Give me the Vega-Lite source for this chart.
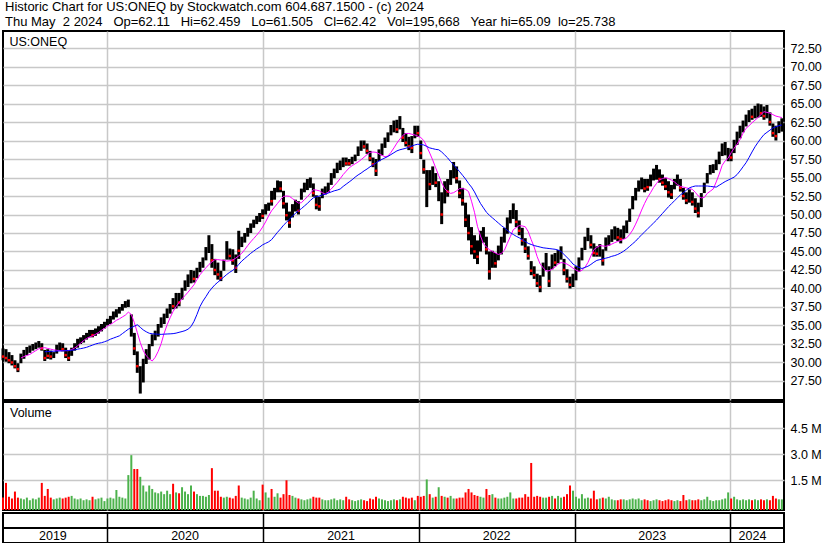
{
"$schema":"https://vega.github.io/schema/vega-lite/v6.json",
"padding":{"left":0,"top":1,"right":0,"bottom":0},
"background":"white",
"spacing":0,
"title":{"text":["Historic Chart for US:ONEQ by Stockwatch.com 604.687.1500 - (c) 2024","Thu May\u00a0\u00a02 2024\u00a0\u00a0\u00a0Op=62.11\u00a0\u00a0\u00a0Hi=62.459\u00a0\u00a0\u00a0Lo=61.505\u00a0\u00a0\u00a0Cl=62.42\u00a0\u00a0\u00a0Vol=195,668\u00a0\u00a0\u00a0Year hi=65.09\u00a0\u00a0lo=25.738"],"anchor":"start","frame":"group","offset":1,"dx":2,"fontSize":13,"fontWeight":"normal","font":"Liberation Sans","color":"black","lineHeight":15},
"config":{"view":{"stroke":"black","strokeWidth":2},"font":"Liberation Sans","axis":{"labelFont":"Liberation Sans","labelFontSize":12.5,"labelColor":"black","gridColor":"#c8c8c8","gridWidth":1.5,"ticks":false,"domain":false,"labelOverlap":false,"minExtent":0}},
"datasets":{
"yr":[{"md":"2019-08-26","y":"2019"},{"md":"2020-07-01","y":"2020"},{"md":"2021-07-02","y":"2021"},{"md":"2022-07-02","y":"2022"},{"md":"2023-07-02","y":"2023"},{"md":"2024-02-22","y":"2024"}],
"w":[
{"d":"2019-05-01","h":31.9,"l":30.3,"c":30.8,"s":"dn","v":0.5},
{"d":"2019-05-08","h":31.8,"l":30.1,"c":30.6,"s":"dn","v":1.35},
{"d":"2019-05-15","h":31.4,"l":29.9,"c":30.3,"s":"dn","v":0.55},
{"d":"2019-05-22","h":31.0,"l":29.6,"c":30.0,"s":"dn","v":0.45},
{"d":"2019-05-29","h":30.3,"l":29.2,"c":29.5,"s":"dn","v":0.85},
{"d":"2019-06-05","h":29.9,"l":28.7,"c":29.1,"s":"dn","v":0.5},
{"d":"2019-06-12","h":31.2,"l":29.9,"c":30.8,"s":"up","v":0.45,"m":30.6},
{"d":"2019-06-19","h":31.7,"l":30.5,"c":31.3,"s":"up","v":0.4,"m":30.8},
{"d":"2019-06-26","h":32.1,"l":31.0,"c":31.8,"s":"up","v":0.5,"m":30.95},
{"d":"2019-07-03","h":32.3,"l":31.3,"c":32.0,"s":"up","v":0.35,"m":31.1},
{"d":"2019-07-10","h":32.5,"l":31.6,"c":32.2,"s":"up","v":0.45,"m":31.35},
{"d":"2019-07-17","h":32.7,"l":31.8,"c":32.4,"s":"up","v":0.4,"m":31.6},
{"d":"2019-07-24","h":32.9,"l":32.0,"c":32.6,"s":"up","v":0.5,"m":31.85},
{"d":"2019-07-31","h":32.6,"l":31.6,"c":31.9,"s":"dn","v":1.35,"m":31.95},
{"d":"2019-08-07","h":31.7,"l":30.2,"c":30.6,"s":"dn","v":0.6,"m":32.0,"b":31.45},
{"d":"2019-08-14","h":31.8,"l":30.5,"c":30.9,"s":"dn","v":1.0,"m":31.9,"b":31.47},
{"d":"2019-08-21","h":31.6,"l":30.4,"c":30.8,"s":"dn","v":0.5,"m":31.8,"b":31.5},
{"d":"2019-08-28","h":31.4,"l":30.6,"c":31.2,"s":"up","v":0.4,"m":31.7,"b":31.52},
{"d":"2019-09-04","h":32.4,"l":31.2,"c":32.0,"s":"up","v":0.45,"m":31.65,"b":31.54},
{"d":"2019-09-11","h":32.7,"l":31.6,"c":32.4,"s":"up","v":0.5,"m":31.6,"b":31.56},
{"d":"2019-09-18","h":32.6,"l":31.5,"c":31.8,"s":"dn","v":0.45,"m":31.6,"b":31.58},
{"d":"2019-09-25","h":32.0,"l":30.6,"c":31.0,"s":"dn","v":0.5,"m":31.6,"b":31.6},
{"d":"2019-10-02","h":31.6,"l":30.2,"c":30.6,"s":"dn","v":0.55,"m":31.6,"b":31.62},
{"d":"2019-10-09","h":32.0,"l":30.9,"c":31.7,"s":"up","v":0.6,"m":31.75,"b":31.65},
{"d":"2019-10-16","h":32.6,"l":31.6,"c":32.3,"s":"up","v":0.45,"m":31.95,"b":31.7},
{"d":"2019-10-23","h":33.2,"l":32.0,"c":32.9,"s":"up","v":0.4,"m":32.25,"b":31.8},
{"d":"2019-10-30","h":33.4,"l":32.5,"c":33.1,"s":"up","v":0.45,"m":32.6,"b":31.87},
{"d":"2019-11-06","h":33.7,"l":32.7,"c":33.4,"s":"up","v":0.35,"m":32.95,"b":31.95},
{"d":"2019-11-13","h":34.0,"l":33.1,"c":33.7,"s":"up","v":0.4,"m":33.25,"b":32.05},
{"d":"2019-11-20","h":34.4,"l":33.4,"c":34.1,"s":"up","v":0.35,"m":33.45,"b":32.2},
{"d":"2019-11-27","h":34.4,"l":33.4,"c":33.7,"s":"dn","v":0.55,"m":33.6,"b":32.35},
{"d":"2019-12-04","h":34.6,"l":33.6,"c":34.3,"s":"up","v":0.4,"m":33.8,"b":32.5},
{"d":"2019-12-11","h":34.9,"l":33.9,"c":34.6,"s":"up","v":0.45,"m":34.05,"b":32.6},
{"d":"2019-12-18","h":35.2,"l":34.2,"c":34.9,"s":"up","v":0.5,"m":34.35,"b":32.67},
{"d":"2019-12-25","h":35.5,"l":34.6,"c":35.2,"s":"up","v":0.3,"m":34.6,"b":32.8},
{"d":"2020-01-01","h":35.9,"l":35.0,"c":35.6,"s":"up","v":0.45,"m":34.9,"b":32.95},
{"d":"2020-01-08","h":36.3,"l":35.2,"c":36.0,"s":"up","v":0.5,"m":35.15,"b":33.15},
{"d":"2020-01-15","h":36.9,"l":35.8,"c":36.6,"s":"up","v":0.45,"m":35.4,"b":33.3},
{"d":"2020-01-22","h":37.2,"l":36.1,"c":36.9,"s":"up","v":0.94,"m":35.7,"b":33.45},
{"d":"2020-01-29","h":37.5,"l":36.6,"c":37.2,"s":"up","v":0.55,"m":35.9,"b":33.6},
{"d":"2020-02-05","h":37.9,"l":37.0,"c":37.6,"s":"up","v":0.5,"m":36.15,"b":33.9},
{"d":"2020-02-12","h":38.3,"l":37.4,"c":38.0,"s":"up","v":0.45,"m":36.4,"b":34.2},
{"d":"2020-02-19","h":38.5,"l":37.5,"c":38.2,"s":"up","v":1.8,"m":36.8,"b":34.5},
{"d":"2020-02-26","h":36.5,"l":33.5,"c":34.4,"s":"up","v":2.95,"m":36.5,"b":34.7},
{"d":"2020-03-04","h":34.0,"l":31.0,"c":31.9,"s":"dn","v":2.15,"m":35.4,"b":34.9},
{"d":"2020-03-11","h":31.5,"l":28.6,"c":29.5,"s":"dn","v":2.15,"m":34.05,"b":35.1},
{"d":"2020-03-18","h":29.5,"l":25.8,"c":27.0,"s":"up","v":1.7,"m":32.7,"b":34.75},
{"d":"2020-03-25","h":30.5,"l":27.3,"c":29.5,"s":"up","v":1.2,"m":31.6,"b":34.4},
{"d":"2020-04-01","h":31.8,"l":29.8,"c":31.2,"s":"up","v":0.85,"m":30.9,"b":34.15},
{"d":"2020-04-08","h":32.5,"l":30.4,"c":31.9,"s":"up","v":1.2,"m":30.5,"b":33.95},
{"d":"2020-04-15","h":33.8,"l":32.2,"c":33.3,"s":"up","v":1.0,"m":30.2,"b":33.88},
{"d":"2020-04-22","h":34.3,"l":33.0,"c":33.9,"s":"up","v":0.8,"m":30.7,"b":33.85},
{"d":"2020-04-29","h":35.2,"l":33.5,"c":34.7,"s":"up","v":0.75,"m":31.5,"b":33.82},
{"d":"2020-05-06","h":36.1,"l":34.7,"c":35.7,"s":"up","v":0.85,"m":32.55,"b":33.8},
{"d":"2020-05-13","h":36.6,"l":35.2,"c":36.2,"s":"up","v":0.7,"m":33.95,"b":33.83},
{"d":"2020-05-20","h":37.3,"l":36.0,"c":36.9,"s":"up","v":0.9,"m":35.1,"b":33.85},
{"d":"2020-05-27","h":37.9,"l":36.6,"c":37.5,"s":"up","v":0.7,"m":36.05,"b":33.87},
{"d":"2020-06-03","h":38.7,"l":37.2,"c":37.6,"s":"dn","v":1.3,"m":36.9,"b":33.9},
{"d":"2020-06-10","h":39.4,"l":37.3,"c":38.8,"s":"up","v":0.8,"m":37.55,"b":33.97},
{"d":"2020-06-17","h":39.4,"l":37.6,"c":38.1,"s":"dn","v":0.75,"m":38.1,"b":34.08},
{"d":"2020-06-24","h":40.1,"l":38.5,"c":39.6,"s":"up","v":1.1,"m":38.6,"b":34.18},
{"d":"2020-07-01","h":41.1,"l":39.7,"c":40.7,"s":"up","v":0.85,"m":39.05,"b":34.3},
{"d":"2020-07-08","h":41.9,"l":40.2,"c":41.4,"s":"up","v":0.7,"m":39.5,"b":34.5},
{"d":"2020-07-15","h":42.5,"l":40.7,"c":42.0,"s":"up","v":1.2,"m":40.0,"b":34.85},
{"d":"2020-07-22","h":42.4,"l":40.8,"c":41.3,"s":"dn","v":0.85,"m":40.5,"b":35.55},
{"d":"2020-07-29","h":42.8,"l":41.4,"c":42.4,"s":"up","v":0.7,"m":41.2,"b":36.5},
{"d":"2020-08-05","h":43.6,"l":42.2,"c":43.2,"s":"up","v":0.6,"m":41.85,"b":37.55},
{"d":"2020-08-12","h":44.2,"l":42.8,"c":43.8,"s":"up","v":0.6,"m":42.35,"b":38.3},
{"d":"2020-08-19","h":45.6,"l":43.8,"c":45.1,"s":"up","v":0.55,"m":42.8,"b":38.9},
{"d":"2020-08-26","h":47.2,"l":44.8,"c":46.5,"s":"up","v":0.65,"m":43.25,"b":39.55},
{"d":"2020-09-02","h":46.0,"l":42.8,"c":43.8,"s":"dn","v":2.2,"m":43.6,"b":40.05},
{"d":"2020-09-09","h":44.0,"l":41.8,"c":42.5,"s":"dn","v":0.9,"m":43.9,"b":40.5},
{"d":"2020-09-16","h":43.5,"l":41.2,"c":41.9,"s":"dn","v":0.9,"m":43.9,"b":40.85},
{"d":"2020-09-23","h":42.4,"l":41.0,"c":41.4,"s":"dn","v":0.55,"m":43.85,"b":41.2},
{"d":"2020-09-30","h":43.9,"l":42.4,"c":43.5,"s":"up","v":0.5,"m":43.8,"b":41.55},
{"d":"2020-10-07","h":46.4,"l":43.9,"c":45.7,"s":"up","v":0.55,"m":43.7,"b":41.9},
{"d":"2020-10-14","h":45.4,"l":43.9,"c":44.4,"s":"dn","v":0.5,"m":43.75,"b":42.2},
{"d":"2020-10-21","h":45.3,"l":43.2,"c":43.8,"s":"dn","v":0.45,"m":43.85,"b":42.45},
{"d":"2020-10-28","h":44.6,"l":42.1,"c":42.8,"s":"dn","v":0.6,"m":44.1,"b":42.8},
{"d":"2020-11-04","h":47.8,"l":44.0,"c":45.1,"s":"dn","v":1.2,"m":44.4,"b":43.25},
{"d":"2020-11-11","h":47.0,"l":45.6,"c":46.6,"s":"up","v":0.5,"m":44.75,"b":43.7},
{"d":"2020-11-18","h":47.5,"l":46.2,"c":47.1,"s":"up","v":0.45,"m":45.25,"b":44.05},
{"d":"2020-11-25","h":48.2,"l":47.0,"c":47.8,"s":"up","v":0.4,"m":45.8,"b":44.4},
{"d":"2020-12-02","h":48.8,"l":47.5,"c":48.4,"s":"up","v":0.5,"m":46.3,"b":44.75},
{"d":"2020-12-09","h":49.3,"l":48.2,"c":49.0,"s":"up","v":0.9,"m":46.75,"b":45.05},
{"d":"2020-12-16","h":49.8,"l":48.7,"c":49.5,"s":"up","v":0.45,"m":47.2,"b":45.35},
{"d":"2020-12-23","h":50.2,"l":49.0,"c":49.8,"s":"up","v":0.35,"m":47.7,"b":45.6},
{"d":"2020-12-30","h":50.7,"l":49.4,"c":49.8,"s":"dn","v":1.25,"m":48.3,"b":45.9},
{"d":"2021-01-06","h":51.4,"l":50.0,"c":51.0,"s":"up","v":0.8,"m":49.0,"b":46.1},
{"d":"2021-01-13","h":51.6,"l":50.5,"c":51.3,"s":"up","v":0.5,"m":49.8,"b":46.3},
{"d":"2021-01-20","h":53.2,"l":51.2,"c":51.8,"s":"dn","v":1.0,"m":50.5,"b":46.6},
{"d":"2021-01-27","h":53.6,"l":52.0,"c":53.1,"s":"up","v":0.55,"m":51.0,"b":47.1},
{"d":"2021-02-03","h":54.6,"l":53.0,"c":54.1,"s":"up","v":0.75,"m":51.5,"b":47.6},
{"d":"2021-02-10","h":54.5,"l":53.0,"c":53.5,"s":"dn","v":0.5,"m":52.0,"b":48.05},
{"d":"2021-02-17","h":53.2,"l":50.8,"c":51.5,"s":"dn","v":0.7,"m":52.45,"b":48.55},
{"d":"2021-02-24","h":51.6,"l":49.2,"c":49.9,"s":"dn","v":1.5,"m":52.5,"b":48.95},
{"d":"2021-03-03","h":50.4,"l":48.2,"c":48.9,"s":"dn","v":0.65,"m":52.45,"b":49.35},
{"d":"2021-03-10","h":51.4,"l":49.6,"c":50.9,"s":"up","v":0.6,"m":52.15,"b":49.8},
{"d":"2021-03-17","h":52.0,"l":50.4,"c":51.5,"s":"up","v":0.5,"m":51.85,"b":50.15},
{"d":"2021-03-24","h":51.8,"l":50.0,"c":50.5,"s":"dn","v":0.45,"m":51.55,"b":50.5},
{"d":"2021-03-31","h":53.5,"l":52.0,"c":53.0,"s":"up","v":0.4,"m":51.6,"b":50.8},
{"d":"2021-04-07","h":54.3,"l":53.0,"c":53.9,"s":"up","v":0.35,"m":52.0,"b":51.15},
{"d":"2021-04-14","h":54.8,"l":53.3,"c":54.4,"s":"up","v":0.4,"m":52.4,"b":51.5},
{"d":"2021-04-21","h":55.0,"l":53.6,"c":54.6,"s":"up","v":0.45,"m":52.85,"b":51.9},
{"d":"2021-04-28","h":54.2,"l":52.4,"c":52.9,"s":"dn","v":0.55,"m":53.35,"b":52.25},
{"d":"2021-05-05","h":52.6,"l":50.7,"c":51.3,"s":"dn","v":0.5,"m":53.3,"b":52.4},
{"d":"2021-05-12","h":52.4,"l":50.5,"c":51.1,"s":"dn","v":0.5,"m":53.2,"b":52.5},
{"d":"2021-05-19","h":53.5,"l":52.2,"c":53.1,"s":"up","v":0.4,"m":52.95,"b":52.65},
{"d":"2021-05-26","h":53.8,"l":52.7,"c":53.5,"s":"up","v":0.35,"m":52.75,"b":52.75},
{"d":"2021-06-02","h":54.3,"l":53.0,"c":53.9,"s":"up","v":0.35,"m":53.05,"b":52.9},
{"d":"2021-06-09","h":55.6,"l":54.0,"c":55.1,"s":"up","v":0.4,"m":53.45,"b":53.05},
{"d":"2021-06-16","h":56.2,"l":54.9,"c":55.8,"s":"up","v":0.45,"m":53.9,"b":53.2},
{"d":"2021-06-23","h":57.0,"l":55.6,"c":56.6,"s":"up","v":0.35,"m":54.35,"b":53.3},
{"d":"2021-06-30","h":57.3,"l":56.0,"c":56.9,"s":"up","v":0.4,"m":54.85,"b":53.45},
{"d":"2021-07-07","h":57.7,"l":56.4,"c":57.3,"s":"up","v":0.35,"m":55.4,"b":53.8},
{"d":"2021-07-14","h":57.7,"l":56.6,"c":56.9,"s":"dn","v":0.55,"m":55.85,"b":54.1},
{"d":"2021-07-21","h":57.5,"l":56.6,"c":56.9,"s":"dn","v":0.4,"m":56.3,"b":54.4},
{"d":"2021-07-28","h":57.8,"l":56.8,"c":57.5,"s":"up","v":0.35,"m":56.6,"b":54.7},
{"d":"2021-08-04","h":58.1,"l":57.2,"c":57.8,"s":"up","v":0.3,"m":56.85,"b":55.05},
{"d":"2021-08-11","h":59.2,"l":57.9,"c":58.8,"s":"up","v":0.35,"m":57.1,"b":55.35},
{"d":"2021-08-18","h":60.0,"l":58.6,"c":59.6,"s":"up","v":0.4,"m":57.4,"b":55.6},
{"d":"2021-08-25","h":60.0,"l":58.9,"c":59.2,"s":"dn","v":0.35,"m":57.75,"b":55.9},
{"d":"2021-09-01","h":59.6,"l":58.2,"c":58.6,"s":"dn","v":0.3,"m":58.1,"b":56.15},
{"d":"2021-09-08","h":58.6,"l":57.2,"c":57.6,"s":"dn","v":0.45,"m":58.4,"b":56.45},
{"d":"2021-09-15","h":57.7,"l":56.4,"c":56.8,"s":"dn","v":0.4,"m":58.45,"b":56.7},
{"d":"2021-09-22","h":57.5,"l":55.2,"c":55.9,"s":"dn","v":0.55,"m":58.4,"b":56.95},
{"d":"2021-09-29","h":58.8,"l":57.2,"c":58.3,"s":"up","v":0.45,"m":58.2,"b":57.25},
{"d":"2021-10-06","h":59.6,"l":58.0,"c":59.1,"s":"up","v":0.4,"m":58.0,"b":57.45},
{"d":"2021-10-13","h":60.4,"l":59.0,"c":60.0,"s":"up","v":0.35,"m":57.8,"b":57.65},
{"d":"2021-10-20","h":61.1,"l":59.8,"c":60.7,"s":"up","v":0.3,"m":57.9,"b":57.85},
{"d":"2021-10-27","h":62.1,"l":60.7,"c":61.7,"s":"up","v":0.35,"m":58.4,"b":58.1},
{"d":"2021-11-03","h":62.7,"l":61.1,"c":62.2,"s":"up","v":0.4,"m":59.0,"b":58.35},
{"d":"2021-11-10","h":62.8,"l":61.0,"c":61.5,"s":"dn","v":0.35,"m":59.65,"b":58.6},
{"d":"2021-11-17","h":63.3,"l":61.5,"c":62.8,"s":"up","v":0.4,"m":60.2,"b":58.75},
{"d":"2021-11-24","h":61.7,"l":59.8,"c":60.4,"s":"dn","v":0.55,"m":60.7,"b":58.85},
{"d":"2021-12-01","h":61.0,"l":59.2,"c":59.7,"s":"dn","v":0.5,"m":60.95,"b":58.95},
{"d":"2021-12-08","h":60.5,"l":58.7,"c":59.2,"s":"dn","v":0.45,"m":60.95,"b":59.1},
{"d":"2021-12-15","h":60.6,"l":58.3,"c":59.0,"s":"dn","v":0.5,"m":60.85,"b":59.25},
{"d":"2021-12-22","h":62.0,"l":60.3,"c":61.5,"s":"up","v":0.35,"m":60.75,"b":59.4},
{"d":"2021-12-29","h":62.0,"l":60.5,"c":61.0,"s":"dn","v":0.6,"m":60.6,"b":59.5},
{"d":"2022-01-05","h":60.0,"l":57.5,"c":58.3,"s":"dn","v":0.55,"m":60.4,"b":59.45},
{"d":"2022-01-12","h":57.4,"l":55.5,"c":56.1,"s":"dn","v":0.6,"m":60.0,"b":59.4},
{"d":"2022-01-19","h":56.0,"l":51.0,"c":54.5,"s":"up","v":1.55,"m":59.2,"b":59.2},
{"d":"2022-01-26","h":56.0,"l":53.3,"c":54.1,"s":"dn","v":0.7,"m":58.3,"b":59.0},
{"d":"2022-02-02","h":56.5,"l":54.0,"c":55.8,"s":"up","v":0.5,"m":57.35,"b":58.9},
{"d":"2022-02-09","h":55.6,"l":53.7,"c":54.3,"s":"dn","v":0.55,"m":56.3,"b":58.8},
{"d":"2022-02-16","h":54.5,"l":51.8,"c":53.7,"s":"up","v":1.1,"m":55.25,"b":58.75},
{"d":"2022-02-23","h":53.0,"l":48.7,"c":50.0,"s":"dn","v":0.6,"m":54.3,"b":58.45},
{"d":"2022-03-02","h":54.5,"l":51.5,"c":53.6,"s":"up","v":0.55,"m":53.5,"b":58.05},
{"d":"2022-03-09","h":54.8,"l":52.4,"c":53.1,"s":"dn","v":0.5,"m":53.1,"b":57.65},
{"d":"2022-03-16","h":56.0,"l":54.0,"c":55.4,"s":"up","v":0.6,"m":52.85,"b":57.15},
{"d":"2022-03-23","h":57.1,"l":54.9,"c":56.4,"s":"up","v":0.45,"m":52.95,"b":56.7},
{"d":"2022-03-30","h":56.5,"l":54.2,"c":54.9,"s":"dn","v":0.45,"m":53.2,"b":56.25},
{"d":"2022-04-06","h":54.6,"l":52.2,"c":52.9,"s":"dn","v":0.5,"m":53.5,"b":55.8},
{"d":"2022-04-13","h":53.6,"l":51.2,"c":51.9,"s":"dn","v":0.5,"m":53.5,"b":55.3},
{"d":"2022-04-20","h":51.6,"l":48.3,"c":49.3,"s":"dn","v":0.8,"m":53.4,"b":54.8},
{"d":"2022-04-27","h":50.0,"l":46.5,"c":47.5,"s":"dn","v":1.0,"m":53.1,"b":54.2},
{"d":"2022-05-04","h":48.3,"l":44.6,"c":45.7,"s":"dn","v":0.8,"m":51.8,"b":53.7},
{"d":"2022-05-11","h":47.2,"l":44.0,"c":45.0,"s":"dn","v":0.65,"m":50.3,"b":53.05},
{"d":"2022-05-18","h":46.5,"l":43.3,"c":44.3,"s":"dn","v":0.6,"m":48.4,"b":52.25},
{"d":"2022-05-25","h":47.8,"l":45.0,"c":47.0,"s":"up","v":0.55,"m":47.1,"b":51.5},
{"d":"2022-06-01","h":48.3,"l":46.2,"c":47.7,"s":"up","v":0.5,"m":46.05,"b":50.9},
{"d":"2022-06-08","h":47.0,"l":44.6,"c":45.3,"s":"dn","v":1.0,"m":45.6,"b":50.3},
{"d":"2022-06-15","h":45.0,"l":41.2,"c":42.3,"s":"dn","v":0.65,"m":45.25,"b":49.9},
{"d":"2022-06-22","h":45.1,"l":42.8,"c":44.4,"s":"up","v":0.7,"m":45.0,"b":49.55},
{"d":"2022-06-29","h":44.8,"l":42.8,"c":43.4,"s":"dn","v":0.5,"m":44.8,"b":49.2},
{"d":"2022-07-06","h":45.8,"l":43.8,"c":45.2,"s":"up","v":0.45,"m":44.6,"b":48.85},
{"d":"2022-07-13","h":47.0,"l":44.6,"c":46.3,"s":"up","v":0.45,"m":44.75,"b":48.5},
{"d":"2022-07-20","h":48.2,"l":46.2,"c":47.6,"s":"up","v":0.5,"m":45.15,"b":48.2},
{"d":"2022-07-27","h":49.6,"l":47.4,"c":48.9,"s":"up","v":0.55,"m":46.1,"b":47.85},
{"d":"2022-08-03","h":50.6,"l":48.8,"c":50.1,"s":"up","v":0.8,"m":47.0,"b":47.55},
{"d":"2022-08-10","h":51.5,"l":49.4,"c":50.9,"s":"up","v":0.45,"m":47.95,"b":47.3},
{"d":"2022-08-17","h":50.6,"l":48.3,"c":49.0,"s":"dn","v":0.45,"m":48.25,"b":47.05},
{"d":"2022-08-24","h":49.2,"l":47.2,"c":47.8,"s":"dn","v":0.5,"m":48.5,"b":46.85},
{"d":"2022-08-31","h":48.2,"l":45.8,"c":46.5,"s":"dn","v":0.5,"m":48.45,"b":46.6},
{"d":"2022-09-07","h":46.8,"l":44.8,"c":45.4,"s":"dn","v":0.7,"m":48.35,"b":46.35},
{"d":"2022-09-14","h":45.7,"l":43.9,"c":44.4,"s":"dn","v":0.55,"m":47.7,"b":46.1},
{"d":"2022-09-21","h":43.7,"l":41.8,"c":42.4,"s":"dn","v":2.5,"m":46.6,"b":45.95},
{"d":"2022-09-28","h":43.0,"l":41.3,"c":41.8,"s":"dn","v":0.55,"m":45.6,"b":45.8},
{"d":"2022-10-05","h":42.0,"l":40.2,"c":40.7,"s":"dn","v":0.6,"m":44.3,"b":45.7},
{"d":"2022-10-12","h":41.8,"l":39.5,"c":40.2,"s":"dn","v":0.55,"m":43.3,"b":45.6},
{"d":"2022-10-19","h":43.5,"l":41.6,"c":42.9,"s":"up","v":0.5,"m":42.8,"b":45.5},
{"d":"2022-10-26","h":44.8,"l":42.5,"c":44.1,"s":"up","v":0.5,"m":42.35,"b":45.45},
{"d":"2022-11-02","h":43.0,"l":40.2,"c":41.0,"s":"dn","v":0.55,"m":42.4,"b":45.4},
{"d":"2022-11-09","h":44.6,"l":42.6,"c":44.0,"s":"up","v":0.6,"m":42.6,"b":45.35},
{"d":"2022-11-16","h":44.8,"l":43.0,"c":43.5,"s":"dn","v":0.45,"m":42.9,"b":45.3},
{"d":"2022-11-23","h":45.2,"l":43.4,"c":44.7,"s":"up","v":0.6,"m":43.3,"b":45.2},
{"d":"2022-11-30","h":45.7,"l":43.9,"c":45.2,"s":"up","v":0.5,"m":43.5,"b":45.0},
{"d":"2022-12-07","h":44.0,"l":41.8,"c":42.5,"s":"dn","v":0.55,"m":43.45,"b":44.6},
{"d":"2022-12-14","h":42.6,"l":40.8,"c":41.3,"s":"dn","v":0.7,"m":43.3,"b":44.2},
{"d":"2022-12-21","h":41.6,"l":40.0,"c":40.5,"s":"dn","v":1.2,"m":43.05,"b":43.8},
{"d":"2022-12-28","h":42.0,"l":40.2,"c":41.5,"s":"up","v":0.9,"m":42.75,"b":43.3},
{"d":"2023-01-04","h":43.0,"l":41.1,"c":42.4,"s":"up","v":0.55,"m":42.5,"b":43.05},
{"d":"2023-01-11","h":44.2,"l":42.3,"c":43.6,"s":"up","v":0.45,"m":42.3,"b":42.85},
{"d":"2023-01-18","h":45.5,"l":43.8,"c":45.0,"s":"up","v":0.7,"m":42.45,"b":42.7},
{"d":"2023-01-25","h":47.0,"l":45.2,"c":46.5,"s":"up","v":0.45,"m":42.85,"b":42.85},
{"d":"2023-02-01","h":48.2,"l":46.4,"c":47.7,"s":"up","v":0.5,"m":43.5,"b":43.0},
{"d":"2023-02-08","h":47.2,"l":45.4,"c":45.9,"s":"dn","v":0.45,"m":44.4,"b":43.25},
{"d":"2023-02-15","h":46.1,"l":44.3,"c":44.8,"s":"dn","v":0.9,"m":45.25,"b":43.55},
{"d":"2023-02-22","h":45.7,"l":44.3,"c":44.7,"s":"dn","v":0.4,"m":45.55,"b":43.8},
{"d":"2023-03-01","h":46.0,"l":44.3,"c":45.5,"s":"up","v":0.45,"m":45.8,"b":43.9},
{"d":"2023-03-08","h":45.3,"l":43.1,"c":43.8,"s":"dn","v":0.5,"m":45.75,"b":44.0},
{"d":"2023-03-15","h":46.9,"l":45.1,"c":46.4,"s":"up","v":0.45,"m":45.7,"b":44.1},
{"d":"2023-03-22","h":47.2,"l":45.8,"c":46.8,"s":"up","v":0.55,"m":45.85,"b":44.2},
{"d":"2023-03-29","h":48.0,"l":46.3,"c":47.5,"s":"up","v":0.4,"m":46.0,"b":44.35},
{"d":"2023-04-05","h":48.4,"l":46.6,"c":47.9,"s":"up","v":0.35,"m":46.2,"b":44.45},
{"d":"2023-04-12","h":48.2,"l":46.4,"c":46.9,"s":"dn","v":0.35,"m":46.35,"b":44.6},
{"d":"2023-04-19","h":48.0,"l":46.1,"c":46.7,"s":"dn","v":0.4,"m":46.5,"b":44.8},
{"d":"2023-04-26","h":48.5,"l":46.7,"c":48.0,"s":"up","v":0.4,"m":46.65,"b":45.05},
{"d":"2023-05-03","h":49.2,"l":47.5,"c":48.7,"s":"up","v":0.35,"m":46.85,"b":45.35},
{"d":"2023-05-10","h":50.8,"l":49.0,"c":50.3,"s":"up","v":0.4,"m":47.3,"b":45.7},
{"d":"2023-05-17","h":52.5,"l":50.7,"c":52.0,"s":"up","v":0.45,"m":47.9,"b":46.05},
{"d":"2023-05-24","h":53.6,"l":51.9,"c":53.1,"s":"up","v":0.4,"m":48.7,"b":46.4},
{"d":"2023-05-31","h":54.6,"l":53.1,"c":54.2,"s":"up","v":0.45,"m":49.6,"b":46.85},
{"d":"2023-06-07","h":55.0,"l":53.4,"c":54.5,"s":"up","v":0.35,"m":50.6,"b":47.25},
{"d":"2023-06-14","h":54.8,"l":53.0,"c":53.5,"s":"dn","v":0.4,"m":51.5,"b":47.65},
{"d":"2023-06-21","h":54.8,"l":53.2,"c":53.7,"s":"dn","v":0.35,"m":52.3,"b":48.05},
{"d":"2023-06-28","h":55.4,"l":53.8,"c":54.9,"s":"up","v":0.3,"m":52.95,"b":48.45},
{"d":"2023-07-05","h":56.2,"l":54.6,"c":55.7,"s":"up","v":0.35,"m":53.65,"b":48.85},
{"d":"2023-07-12","h":56.7,"l":54.7,"c":56.1,"s":"up","v":0.4,"m":54.2,"b":49.25},
{"d":"2023-07-19","h":56.1,"l":54.3,"c":54.8,"s":"dn","v":0.35,"m":54.7,"b":49.7},
{"d":"2023-07-26","h":55.4,"l":53.9,"c":54.3,"s":"dn","v":0.3,"m":54.85,"b":50.15},
{"d":"2023-08-02","h":54.9,"l":53.3,"c":53.8,"s":"dn","v":0.35,"m":55.0,"b":50.6},
{"d":"2023-08-09","h":54.5,"l":52.3,"c":53.0,"s":"dn","v":0.4,"m":54.85,"b":51.05},
{"d":"2023-08-16","h":54.0,"l":52.1,"c":52.7,"s":"dn","v":0.35,"m":54.65,"b":51.45},
{"d":"2023-08-23","h":54.8,"l":53.4,"c":54.4,"s":"up","v":0.3,"m":54.4,"b":51.85},
{"d":"2023-08-30","h":55.4,"l":53.9,"c":55.0,"s":"up","v":0.35,"m":54.05,"b":52.25},
{"d":"2023-09-06","h":54.8,"l":53.1,"c":53.6,"s":"dn","v":0.3,"m":53.8,"b":52.65},
{"d":"2023-09-13","h":53.6,"l":52.0,"c":52.5,"s":"dn","v":0.65,"m":53.7,"b":52.95},
{"d":"2023-09-20","h":53.0,"l":51.4,"c":51.9,"s":"dn","v":0.35,"m":53.6,"b":53.3},
{"d":"2023-09-27","h":53.4,"l":51.6,"c":52.9,"s":"up","v":0.4,"m":53.5,"b":53.6},
{"d":"2023-10-04","h":53.0,"l":51.2,"c":51.7,"s":"dn","v":0.35,"m":53.4,"b":53.75},
{"d":"2023-10-11","h":52.2,"l":50.2,"c":50.8,"s":"dn","v":0.35,"m":53.0,"b":53.85},
{"d":"2023-10-18","h":51.6,"l":49.6,"c":50.2,"s":"dn","v":0.4,"m":52.5,"b":53.85},
{"d":"2023-10-25","h":52.9,"l":51.0,"c":52.3,"s":"up","v":0.35,"m":52.25,"b":53.85},
{"d":"2023-11-01","h":54.3,"l":52.9,"c":53.9,"s":"up","v":0.4,"m":52.3,"b":53.85},
{"d":"2023-11-08","h":55.6,"l":54.2,"c":55.2,"s":"up","v":0.55,"m":52.85,"b":53.85},
{"d":"2023-11-15","h":56.7,"l":55.4,"c":56.3,"s":"up","v":0.35,"m":53.15,"b":53.8},
{"d":"2023-11-22","h":56.8,"l":55.6,"c":56.4,"s":"up","v":0.3,"m":53.45,"b":53.75},
{"d":"2023-11-29","h":57.4,"l":56.0,"c":57.0,"s":"up","v":0.35,"m":54.4,"b":53.7},
{"d":"2023-12-06","h":58.5,"l":56.8,"c":58.0,"s":"up","v":0.35,"m":55.45,"b":53.95},
{"d":"2023-12-13","h":59.6,"l":57.9,"c":59.1,"s":"up","v":0.4,"m":56.65,"b":54.2},
{"d":"2023-12-20","h":59.8,"l":58.0,"c":59.3,"s":"up","v":0.45,"m":57.25,"b":54.45},
{"d":"2023-12-27","h":59.0,"l":57.2,"c":58.5,"s":"up","v":0.8,"m":57.6,"b":54.65},
{"d":"2024-01-03","h":58.9,"l":57.2,"c":57.7,"s":"dn","v":0.45,"m":58.35,"b":54.85},
{"d":"2024-01-10","h":60.1,"l":58.3,"c":59.6,"s":"up","v":0.55,"m":58.95,"b":55.05},
{"d":"2024-01-17","h":61.2,"l":59.4,"c":60.7,"s":"up","v":0.4,"m":59.5,"b":55.4},
{"d":"2024-01-24","h":62.0,"l":60.3,"c":61.5,"s":"up","v":0.35,"m":60.15,"b":55.9},
{"d":"2024-01-31","h":62.7,"l":61.1,"c":62.2,"s":"up","v":0.4,"m":61.0,"b":56.45},
{"d":"2024-02-07","h":63.5,"l":61.9,"c":63.0,"s":"up","v":0.35,"m":61.65,"b":57.0},
{"d":"2024-02-14","h":64.1,"l":62.5,"c":63.6,"s":"up","v":0.4,"m":62.0,"b":57.7},
{"d":"2024-02-21","h":64.3,"l":62.8,"c":63.2,"s":"dn","v":0.35,"m":62.4,"b":58.45},
{"d":"2024-02-28","h":64.7,"l":63.0,"c":64.2,"s":"up","v":0.4,"m":62.75,"b":59.15},
{"d":"2024-03-06","h":65.0,"l":63.1,"c":64.4,"s":"up","v":0.35,"m":63.1,"b":59.75},
{"d":"2024-03-13","h":64.9,"l":63.2,"c":63.7,"s":"dn","v":0.4,"m":63.5,"b":60.3},
{"d":"2024-03-20","h":64.6,"l":62.8,"c":63.3,"s":"dn","v":0.35,"m":63.9,"b":60.8},
{"d":"2024-03-27","h":64.8,"l":63.0,"c":64.3,"s":"up","v":0.4,"m":63.8,"b":61.1},
{"d":"2024-04-03","h":63.8,"l":62.0,"c":62.5,"s":"dn","v":0.35,"m":63.7,"b":61.4},
{"d":"2024-04-10","h":62.3,"l":60.5,"c":61.0,"s":"dn","v":0.6,"m":63.5,"b":61.7},
{"d":"2024-04-17","h":62.0,"l":60.0,"c":60.6,"s":"dn","v":0.45,"m":63.3,"b":61.85},
{"d":"2024-04-24","h":62.6,"l":61.0,"c":62.1,"s":"up","v":0.4,"m":63.2,"b":62.0},
{"d":"2024-05-01","h":63.0,"l":61.2,"c":62.4,"s":"up","v":0.4,"m":63.1,"b":62.1}
]},
"vconcat":[
{"width":781,"height":369,"data":{"name":"w"},
 "title":{"text":"US:ONEQ","anchor":"start","offset":-17,"dx":8,"fontSize":12.5,"fontWeight":"normal","font":"Liberation Sans","color":"black"},
 "resolve":{"scale":{"y":"shared"},"axis":{"y":"independent"}},
 "encoding":{"x":{"field":"d","type":"temporal","title":null,"scale":{"domain":[{"year":2019,"month":5,"date":1},{"year":2024,"month":5,"date":6}]},"axis":{"values":[{"year":2020,"month":1,"date":1},{"year":2021,"month":1,"date":1},{"year":2022,"month":1,"date":1},{"year":2023,"month":1,"date":1},{"year":2024,"month":1,"date":1}],"grid":true,"labels":false,"ticks":false,"domain":false,"minExtent":0,"maxExtent":0}}},
 "layer":[
  {"mark":{"type":"rule","strokeWidth":3,"color":"black"},"encoding":{"y":{"field":"l","type":"quantitative","title":null,"scale":{"domain":[24.93,74.8],"nice":false,"zero":false},"axis":{"orient":"right","values":[27.5,32.5,37.5,42.5,47.5,52.5,57.5,62.5,67.5,72.5],"format":".2f","grid":true,"offset":47,"labelPadding":-41,"domain":true,"domainColor":"black","domainWidth":2,"labelAlign":"left","labelOverlap":false}},"y2":{"field":"h"}}},
  {"transform":[{"filter":"datum.s == 'dn'"}],"mark":{"type":"square","size":6,"color":"#ff0000","opacity":1},"encoding":{"y":{"field":"c","type":"quantitative","title":null,"axis":{"orient":"right","values":[30,35,40,45,50,55,60,65,70],"format":".2f","grid":true,"offset":47,"labelPadding":-41,"domain":false,"labelAlign":"left","labelOverlap":false}}}},
  {"mark":{"type":"line","color":"#ff00ff","strokeWidth":1},"encoding":{"y":{"field":"m","type":"quantitative","title":null,"axis":null}}},
  {"mark":{"type":"line","color":"#0000ff","strokeWidth":1},"encoding":{"y":{"field":"b","type":"quantitative","title":null,"axis":null}}}
 ]},
{"width":781,"height":108,"data":{"name":"w"},
 "title":{"text":"Volume","anchor":"start","offset":-17,"dx":8,"fontSize":12.5,"fontWeight":"normal","font":"Liberation Sans","color":"black"},
 "mark":{"type":"rule","strokeWidth":2},
 "encoding":{
  "x":{"field":"d","type":"temporal","title":null,"scale":{"domain":[{"year":2019,"month":5,"date":1},{"year":2024,"month":5,"date":6}]},"axis":{"values":[{"year":2020,"month":1,"date":1},{"year":2021,"month":1,"date":1},{"year":2022,"month":1,"date":1},{"year":2023,"month":1,"date":1},{"year":2024,"month":1,"date":1}],"grid":true,"labels":false,"ticks":false,"domain":false,"minExtent":0,"maxExtent":0}},
  "y":{"field":"v","type":"quantitative","title":null,"scale":{"domain":[-0.214,6.017],"nice":false,"zero":false},"axis":{"orient":"right","values":[1.5,3,4.5],"labelExpr":"format(datum.value, '.1f') + ' M'","grid":true,"offset":47,"labelPadding":-41,"domain":true,"domainColor":"black","domainWidth":2,"labelAlign":"left","labelOverlap":false}},
  "y2":{"datum":-0.214},
  "color":{"field":"s","type":"nominal","scale":{"domain":["up","dn"],"range":["#4cb24c","#ff0000"]},"legend":null}
 }},
{"width":781,"height":30,"data":{"name":"yr"},
 "layer":[
  {"mark":{"type":"text","fontSize":12.5,"font":"Liberation Sans","color":"black","baseline":"middle"},
   "encoding":{
    "x":{"field":"md","type":"temporal","title":null,"scale":{"domain":[{"year":2019,"month":5,"date":1},{"year":2024,"month":5,"date":6}]},"axis":{"values":[{"year":2020,"month":1,"date":1},{"year":2021,"month":1,"date":1},{"year":2022,"month":1,"date":1},{"year":2023,"month":1,"date":1},{"year":2024,"month":1,"date":1}],"grid":true,"gridColor":"black","gridWidth":1.5,"labels":false,"ticks":false,"domain":false,"minExtent":0,"maxExtent":0}},
    "y":{"datum":0.47,"type":"quantitative","scale":{"domain":[0,2]},"axis":{"orient":"right","offset":47,"labels":false,"grid":false,"ticks":false,"domain":true,"domainColor":"black","domainWidth":2,"title":null}},
    "text":{"field":"y"}}},
  {"mark":{"type":"rule","color":"black","strokeWidth":2},"encoding":{"y":{"datum":1.0,"type":"quantitative"}}}
 ]}
]
}
